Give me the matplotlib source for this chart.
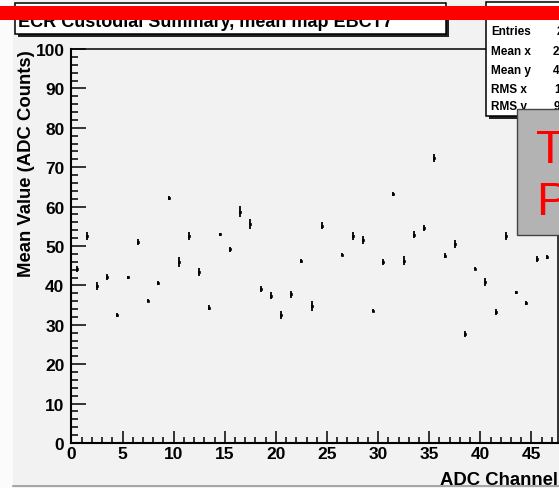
import numpy as np
import matplotlib.pyplot as plt
from matplotlib.patches import Rectangle

plt.rcParams['font.family'] = ['Liberation Sans', 'DejaVu Sans']

# channel numbers (channel 25 and 47 not drawn / hidden)
channels = [0, 1, 2, 3, 4, 5, 6, 7, 8, 9, 10, 11, 12, 13, 14, 15, 16, 17, 18, 19,
            20, 21, 22, 23, 24, 26, 27, 28, 29, 30, 31, 32, 33, 34, 35, 36, 37, 38,
            39, 40, 41, 42, 43, 44, 45, 46]
mean_values = [44.2, 52.5, 39.8, 42.2, 32.5, 42.1, 51.0, 36.1, 40.6, 62.2, 45.9, 52.6,
               43.5, 34.3, 53.0, 49.2, 58.7, 55.6, 39.1, 37.4, 32.5, 37.7, 46.2, 34.8,
               55.2, 47.8, 52.6, 51.5, 33.6, 45.9, 63.2, 46.3, 52.9, 54.5, 72.3, 47.5,
               50.5, 27.7, 44.2, 40.9, 33.3, 52.6, 38.2, 35.5, 46.7, 47.3]
mean_errors = [0.8, 1.0, 1.0, 0.75, 0.5, 0.4, 0.8, 0.4, 0.6, 0.4, 1.2, 1.0,
               1.0, 0.6, 0.4, 0.6, 1.35, 1.35, 0.8, 0.8, 1.0, 0.9, 0.4, 1.35,
               1.0, 0.4, 1.0, 1.0, 0.4, 0.8, 0.5, 1.2, 0.9, 0.8, 1.0, 0.6,
               1.0, 0.8, 0.4, 1.0, 0.8, 1.0, 0.4, 0.6, 0.8, 0.5]

stat_labels = ["Entries", "Mean x", "Mean y", "RMS x", "RMS y"]
stat_values = ["2304", "23.21", "45.63", "13.62", "9.174"]

title = "ECR Custodial Summary, mean map EBCT7"

W, H = 559, 489
BG = '#f2f2f2'

def fx(x):
    return x / W

def fy(y):
    return 1 - y / H

fig = plt.figure(figsize=(W / 100, H / 100), dpi=100, facecolor=BG)

# lighter strip on the left and bottom border of the canvas
fig.add_artist(Rectangle((0, 0), fx(13), 1, transform=fig.transFigure,
                         facecolor='#fbfbfb', edgecolor='none', zorder=0))
fig.add_artist(plt.Line2D([fx(13), 1], [fy(487), fy(487)], transform=fig.transFigure,
                          color='#999999', lw=1.2, zorder=0))

ax = fig.add_axes([fx(71.4), fy(444), fx(558) - fx(71.4), fy(50) - fy(444)])
ax.set_facecolor(BG)

x = np.array(channels) + 0.5
ax.errorbar(x, mean_values, yerr=mean_errors, fmt='s', ms=2.0, mfc='k', mec='k',
            mew=0.5, ecolor='k', elinewidth=1.3, capsize=0)

ax.set_xlim(0, 47.6)
ax.set_ylim(0, 100)
ax.set_xticks(np.arange(0, 46, 5))
ax.set_xticks(np.arange(0, 48, 1), minor=True)
ax.set_yticks(np.arange(0, 101, 10))
ax.set_yticks(np.arange(0, 101, 2), minor=True)

ax.tick_params(which='both', direction='in', top=False, right=False, width=1.1,
               labelsize=12.5)
ax.tick_params(axis='y', which='major', length=11, pad=5)
ax.tick_params(axis='y', which='minor', length=5)
ax.tick_params(axis='x', which='major', length=9, pad=2)
ax.tick_params(axis='x', which='minor', length=4.5)
for lab in ax.get_xticklabels() + ax.get_yticklabels():
    lab.set_fontweight('bold')

for side in ['left', 'bottom']:
    ax.spines[side].set_linewidth(1.5)
for side in ['top', 'right']:
    ax.spines[side].set_linewidth(1.1)

ax.set_xlabel("ADC Channel", loc='right', fontsize=13.3, fontweight='bold')
ax.xaxis.set_label_coords(1.0, -0.072)
ax.set_ylabel("Mean Value (ADC Counts)", loc='top', fontsize=13.3, fontweight='bold')
ax.yaxis.set_label_coords(-0.074, 1.0)

# title box with shadow
fig.add_artist(Rectangle((fx(18), fy(38)), fx(446) - fx(15), fy(4) - fy(35),
                         transform=fig.transFigure, facecolor='#222222',
                         edgecolor='none', zorder=2))
fig.add_artist(Rectangle((fx(15), fy(35)), fx(446) - fx(15), fy(4) - fy(35),
                         transform=fig.transFigure, facecolor='white',
                         edgecolor='black', lw=1.1, zorder=2.1))
fig.text(fx(18), fy(27), title, fontsize=13, fontweight='bold', va='baseline',
         ha='left', zorder=2.2)

# stats box with shadow
fig.add_artist(Rectangle((fx(489), fy(120)), 0.2, fy(3) - fy(117),
                         transform=fig.transFigure, facecolor='#222222',
                         edgecolor='none', zorder=2))
fig.add_artist(Rectangle((fx(486), fy(117)), 0.2, fy(3) - fy(117),
                         transform=fig.transFigure, facecolor='white',
                         edgecolor='black', lw=1.1, zorder=2.1))
stat_y = [32, 52, 71, 90, 107]
stat_x = [557, 553, 553, 554, 554]
for lab, val, xx, yy in zip(stat_labels, stat_values, stat_x, stat_y):
    fig.text(fx(491), fy(yy), lab, fontsize=8.5, fontweight='bold', va='center',
             ha='left', zorder=2.2)
    fig.text(fx(xx), fy(yy), val, fontsize=8.5, fontweight='bold', va='center',
             ha='left', zorder=2.2)

# red bar over the top
fig.add_artist(Rectangle((0, fy(20.7)), 1, fy(6.5) - fy(20.7),
                         transform=fig.transFigure, facecolor='#ff0000',
                         edgecolor='none', zorder=3))

# grey stamp box
fig.add_artist(Rectangle((fx(517), fy(236)), 0.2, fy(110) - fy(236),
                         transform=fig.transFigure, facecolor='#b3b3b3',
                         edgecolor='#444444', lw=1.0, zorder=4))
fig.text(fx(536), fy(163), "Test", fontsize=34, color='#ff0000', va='baseline',
         ha='left', zorder=4.1)
fig.text(fx(536), fy(215), "Plot", fontsize=34, color='#ff0000', va='baseline',
         ha='left', zorder=4.1)

fig.savefig("out.png", dpi=100, facecolor=BG)
